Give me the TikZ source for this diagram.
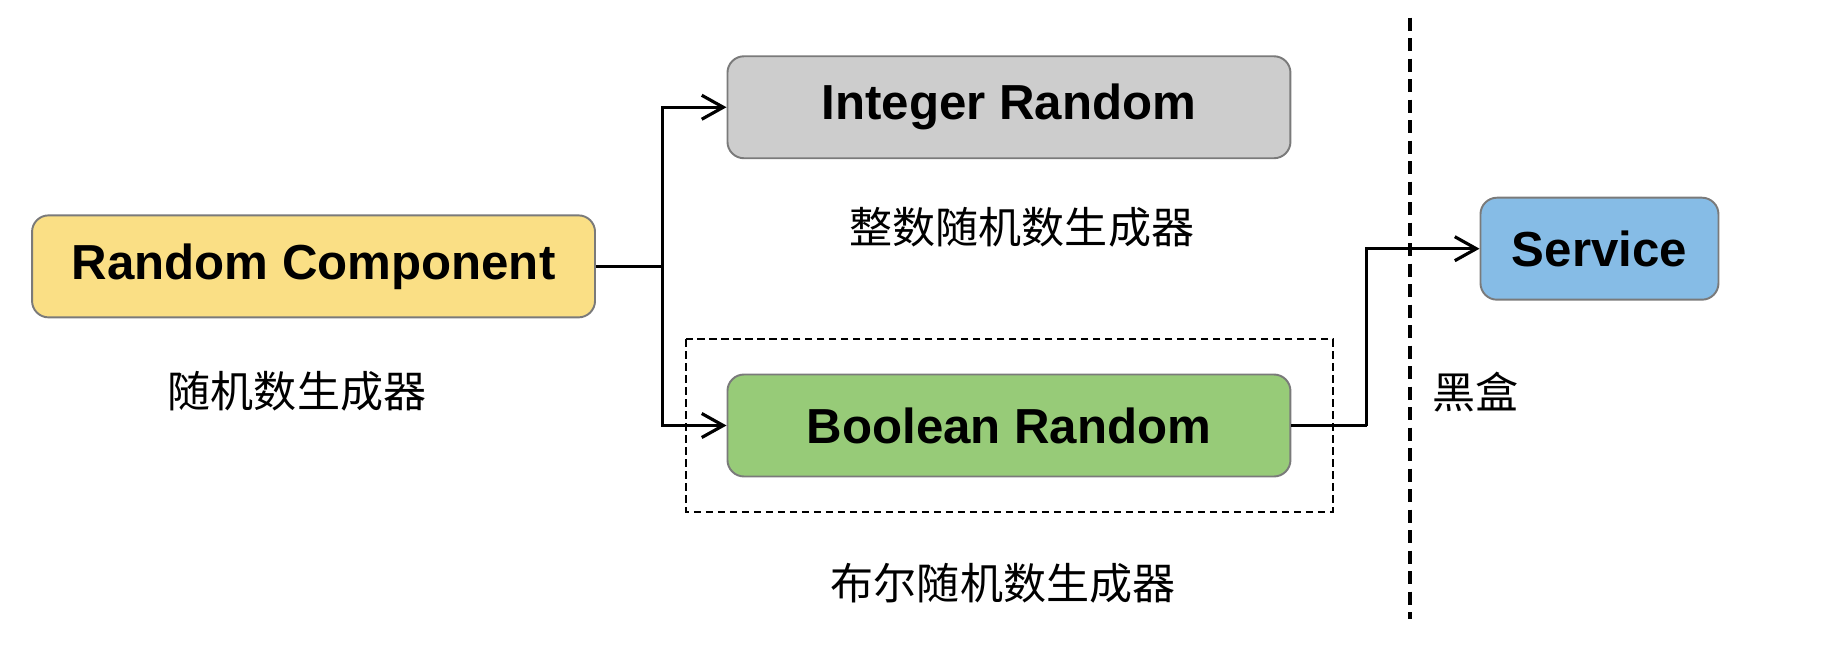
\documentclass[tikz,border=0pt]{standalone}
\usepackage{fontspec}
\newfontfamily\boxfont{Liberation Sans}
\newfontfamily\cjk{Noto Sans CJK SC}
\usetikzlibrary{arrows.meta,calc}
\definecolor{compyellow}{HTML}{FADF85}
\definecolor{intgray}{HTML}{CDCDCD}
\definecolor{boolgreen}{HTML}{97CB78}
\definecolor{servblue}{HTML}{86BCE6}
\definecolor{edgegray}{HTML}{7A7A7A}
\begin{document}
\begin{tikzpicture}[x=0.023574cm,y=-0.023574cm,>={Straight Barb[length=0.43cm,width=0.48cm]}]
%===styles===
\tikzset{
 block/.style ={draw=edgegray, line width=1.1pt, rounded corners=0.33cm, minimum width=11.26cm, minimum height=2.04cm, font=\boxfont\bfseries\fontsize{28}{30}\selectfont},
 caption/.style ={font=\cjk\fontsize{24.5}{26}\selectfont},
 link/.style ={line width=1.8pt}
}
\useasboundingbox (0,0) rectangle (1567,554);
%===blocks===
\node[block,fill=compyellow] (rcomp) at (266,226) {Random Component};
\node[block,fill=intgray] (intrand) at (856,91) {Integer Random};
\node[block,fill=boolgreen] (boolrand) at (856,361) {Boolean Random};
\node[block,fill=servblue,minimum width=4.76cm] (service) at (1357,211) {Service};
%===captions===
\node[caption] (rcompcap) at (252,332) {随机数生成器};
\node[caption] (intcap) at (867,193) {整数随机数生成器};
\node[caption] (boolcap) at (851,495) {布尔随机数生成器};
\node[caption] (boxcap) at (1252,333) {黑盒};
%===black box border===
\coordinate (top) at (1196,15);
\coordinate (bottom) at (1196,525);
\draw[line width=2.3pt, dash pattern=on 0.26cm off 0.15cm] (top) -- (bottom);
\coordinate (fa) at (582,288);
\coordinate (fb) at (1131,434);
\draw[line width=1.1pt, dash pattern=on 0.15cm off 0.09cm] (fa) rectangle (fb);
%===connectors===
\coordinate (split) at (562,226);
\draw[link] (rcomp.east) -- (split);
\draw[link,->] (split) |- (intrand.west);
\draw[link,->] (split) |- (boolrand.west);
\coordinate (turn) at ($(boolrand.east) + (64,0)$);
\draw[link] (boolrand.east) -- (turn);
\draw[link,->] (turn) |- (service.west);
\end{tikzpicture}
\end{document}
